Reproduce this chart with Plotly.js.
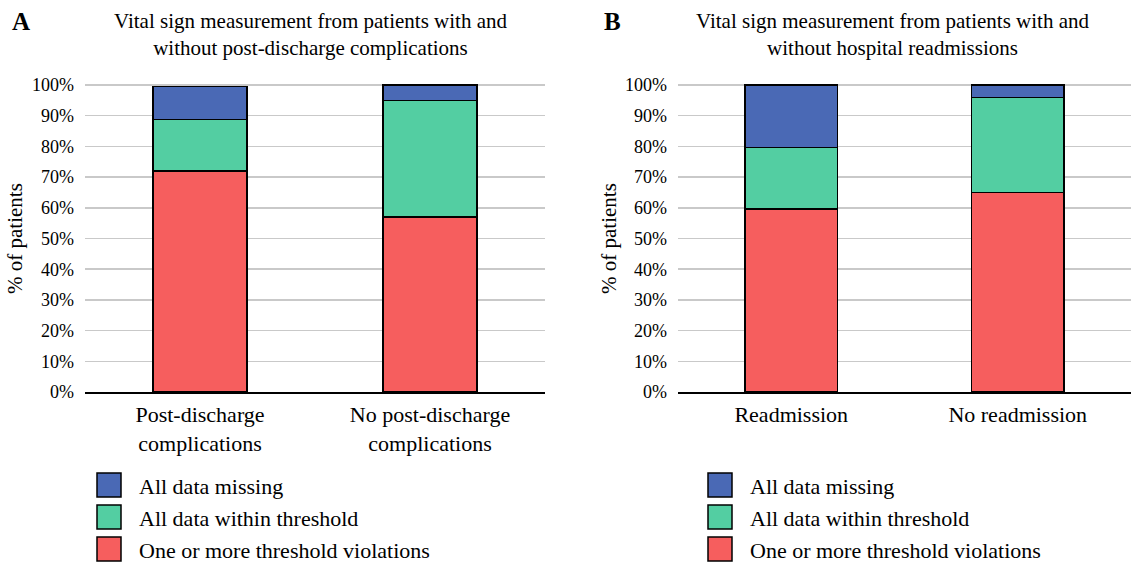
<!DOCTYPE html>
<html>
<head>
<meta charset="utf-8">
<script src="https://cdn.plot.ly/plotly-3.0.1.min.js"></script>
<style>html,body{margin:0;padding:0;background:#fff;}#chart{width:1131px;height:563px;}</style>
</head>
<body>
<div id="chart"></div>
<script>
// ---- data ----
const categoriesA = ['Post-discharge<br>complications', 'No post-discharge<br>complications'];
const categoriesB = ['Readmission', 'No readmission'];
const seriesNames = ['One or more threshold violations', 'All data within threshold', 'All data missing'];
const seriesColors = ['#f65e5e', '#53cea2', '#4a69b5'];
const violationsA = [72.0, 57.0];
const withinA = [16.7, 38.0];
const missingA = [10.8, 5.0];
const violationsB = [59.6, 65.0];
const withinB = [20.1, 31.0];
const missingB = [20.3, 4.0];
const yTickVals = [0, 10, 20, 30, 40, 50, 60, 70, 80, 90, 100];
const yTickLabels = ['0%', '10%', '20%', '30%', '40%', '50%', '60%', '70%', '80%', '90%', '100%'];
const titleA = 'Vital sign measurement from patients with and<br>without post-discharge complications';
const titleB = 'Vital sign measurement from patients with and<br>without hospital readmissions';
const yTitle = '% of patients';

const W = 1131, H = 563;
const px = x => x / W;
const py = y => 1 - y / H;
const FONT = '"Liberation Serif", "Times New Roman", serif';

const seriesA = [violationsA, withinA, missingA];
const seriesB = [violationsB, withinB, missingB];

const traces = [];
seriesA.forEach((vals, i) => traces.push({
  type: 'bar', x: categoriesA, y: vals, name: seriesNames[i], xaxis: 'x', yaxis: 'y',
  width: 0.41, marker: {color: seriesColors[i], line: {color: '#000', width: 1.5}},
  showlegend: false, hoverinfo: 'skip'
}));
seriesB.forEach((vals, i) => traces.push({
  type: 'bar', x: categoriesB, y: vals, name: seriesNames[i], xaxis: 'x2', yaxis: 'y2',
  width: 0.41, marker: {color: seriesColors[i], line: {color: '#000', width: 1.5}},
  showlegend: false, hoverinfo: 'skip'
}));

const yTop = 101;
const yDomain = [py(392), py(392 - 3.07 * yTop)];
const yax = {
  range: [0, yTop], domain: yDomain, tickmode: 'array', tickvals: yTickVals, ticktext: yTickLabels,
  showgrid: true, gridcolor: '#c9c9c9', gridwidth: 1.5,
  zeroline: false, showline: false, ticks: '', ticklabelstandoff: 10,
  tickfont: {family: FONT, size: 18, color: '#000'}, fixedrange: true
};
const xax = {
  showline: true, linecolor: '#000', linewidth: 1.5, ticks: '', showgrid: false,
  tickfont: {family: FONT, size: 22, color: '#000'}, range: [-0.5, 1.5], fixedrange: true,
  ticklabelstandoff: 2
};

const ann = (text, x, y, size, extra) => Object.assign({
  text: text, x: px(x), y: py(y), xref: 'paper', yref: 'paper', showarrow: false,
  xanchor: 'center', yanchor: 'middle', font: {family: FONT, size: size, color: '#000'}
}, extra || {});

const annotations = [
  ann('<b>A</b>', 21, 22, 25),
  ann('<b>B</b>', 612, 22, 25),
  ann(titleA, 310, 35, 21),
  ann(titleB, 892, 35, 21),
  ann(yTitle, 15, 239, 21, {textangle: -90}),
  ann(yTitle, 609, 239, 21, {textangle: -90})
];
const shapes = [];
// custom legends (top: missing, then within, then violations)
const legendOrder = [2, 1, 0];
[[97, 137], [708, 748]].forEach(([sx, tx]) => {
  legendOrder.forEach((si, row) => {
    const cy = 485 + row * 32;
    shapes.push({type: 'rect', xref: 'paper', yref: 'paper', x0: px(sx), x1: px(sx + 24), y0: py(cy - 12), y1: py(cy + 12),
      fillcolor: seriesColors[si], line: {color: '#000', width: 1.5}});
    annotations.push(ann(seriesNames[si], tx, cy + 1, 22, {xanchor: 'left'}));
  });
});

const layout = {
  width: W, height: H, margin: {l: 0, r: 0, t: 0, b: 0},
  paper_bgcolor: '#fff', plot_bgcolor: '#fff', barmode: 'stack', showlegend: false,
  xaxis: Object.assign({}, xax, {domain: [px(85), px(545)], anchor: 'y'}),
  yaxis: Object.assign({}, yax, {anchor: 'x'}),
  xaxis2: Object.assign({}, xax, {domain: [px(678), 1], anchor: 'y2'}),
  yaxis2: Object.assign({}, yax, {anchor: 'x2'}),
  annotations: annotations, shapes: shapes
};
Plotly.newPlot('chart', traces, layout, {staticPlot: true, displayModeBar: false});
</script>
</body>
</html>
